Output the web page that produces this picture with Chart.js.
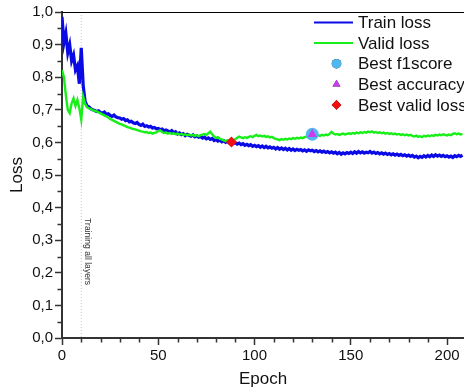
<!DOCTYPE html>
<html>
<head>
<meta charset="utf-8">
<script src="https://cdn.jsdelivr.net/npm/chart.js@4"></script>
<style>
  html, body { margin: 0; padding: 0; background: #fff; }
  #wrap { width: 464px; height: 392px; position: relative; }
</style>
</head>
<body>
<div id="wrap"><canvas id="lossChart"></canvas></div>
<script>
// Loss per epoch
const trainLoss = [
  0.985, 0.905, 0.935, 0.875, 0.900, 0.850, 0.868, 0.822, 0.835, 0.780,
  0.890, 0.775, 0.726, 0.712, 0.709, 0.703, 0.700, 0.698, 0.695, 0.697,
  0.692, 0.690, 0.693, 0.686, 0.688, 0.683, 0.680, 0.684, 0.678, 0.676,
  0.675, 0.671, 0.673, 0.667, 0.669, 0.663, 0.665, 0.660, 0.658, 0.661,
  0.655, 0.652, 0.656, 0.649, 0.651, 0.647, 0.649, 0.644, 0.646, 0.642,
  0.643, 0.639, 0.641, 0.636, 0.638, 0.635, 0.632, 0.636, 0.630, 0.633,
  0.626, 0.629, 0.624, 0.627, 0.621, 0.625, 0.622, 0.619, 0.623, 0.617,
  0.620, 0.616, 0.618, 0.613, 0.616, 0.611, 0.614, 0.609, 0.612, 0.606,
  0.609, 0.604, 0.607, 0.602, 0.605, 0.600, 0.603, 0.598, 0.601, 0.597,
  0.599, 0.595, 0.598, 0.593, 0.596, 0.591, 0.594, 0.590, 0.593, 0.588,
  0.591, 0.587, 0.590, 0.585, 0.589, 0.584, 0.588, 0.583, 0.586, 0.582,
  0.585, 0.580, 0.584, 0.579, 0.583, 0.578, 0.582, 0.577, 0.581, 0.576,
  0.580, 0.575, 0.579, 0.576, 0.578, 0.574, 0.577, 0.573, 0.577, 0.574,
  0.576, 0.572, 0.575, 0.571, 0.574, 0.570, 0.573, 0.569, 0.572, 0.568,
  0.571, 0.567, 0.570, 0.565, 0.569, 0.564, 0.568, 0.565, 0.569, 0.566,
  0.570, 0.566, 0.571, 0.567, 0.572, 0.568, 0.571, 0.567, 0.570, 0.568,
  0.572, 0.567, 0.570, 0.566, 0.569, 0.565, 0.568, 0.564, 0.567, 0.563,
  0.566, 0.562, 0.565, 0.561, 0.564, 0.560, 0.563, 0.559, 0.562, 0.558,
  0.561, 0.557, 0.560, 0.555, 0.558, 0.553, 0.557, 0.554, 0.559, 0.555,
  0.560, 0.556, 0.561, 0.557, 0.562, 0.558, 0.561, 0.557, 0.560, 0.556,
  0.559, 0.555, 0.558, 0.554, 0.559, 0.556, 0.560, 0.557, 0.561
];
const validLoss = [
  0.822, 0.800, 0.745, 0.700, 0.690, 0.720, 0.735, 0.712, 0.730, 0.705,
  0.670, 0.740, 0.718, 0.708, 0.704, 0.702, 0.699, 0.697, 0.695, 0.692,
  0.689, 0.686, 0.683, 0.680, 0.676, 0.672, 0.669, 0.666, 0.663, 0.660,
  0.657, 0.655, 0.652, 0.650, 0.647, 0.645, 0.643, 0.641, 0.640, 0.638,
  0.636, 0.634, 0.633, 0.631, 0.632, 0.629, 0.630, 0.627, 0.629, 0.631,
  0.635, 0.637, 0.632, 0.629, 0.630, 0.627, 0.629, 0.626, 0.628, 0.625,
  0.627, 0.624, 0.626, 0.623, 0.625, 0.622, 0.624, 0.621, 0.623, 0.620,
  0.622, 0.619, 0.622, 0.624, 0.626, 0.623, 0.628, 0.633, 0.625, 0.618,
  0.614, 0.616, 0.611, 0.609, 0.606, 0.604, 0.607, 0.603, 0.601, 0.604,
  0.610, 0.614, 0.618, 0.615, 0.613, 0.616, 0.614, 0.617, 0.619, 0.616,
  0.620, 0.623, 0.619, 0.621, 0.618, 0.620, 0.617, 0.619, 0.615, 0.617,
  0.613, 0.611, 0.609, 0.607, 0.610, 0.608, 0.611, 0.609, 0.612, 0.610,
  0.613, 0.611, 0.614, 0.612, 0.615, 0.613, 0.616, 0.618, 0.620, 0.622,
  0.625, 0.621, 0.619, 0.622, 0.620, 0.623, 0.621, 0.624, 0.622, 0.626,
  0.632, 0.627, 0.624, 0.626, 0.623, 0.625, 0.627, 0.624, 0.626, 0.628,
  0.626, 0.629, 0.627, 0.630, 0.628, 0.631, 0.629, 0.632, 0.630, 0.633,
  0.631, 0.634, 0.630, 0.632, 0.629, 0.631, 0.628, 0.630, 0.627, 0.629,
  0.626, 0.628, 0.625, 0.627, 0.624, 0.626, 0.623, 0.625, 0.622, 0.624,
  0.621, 0.623, 0.620, 0.618, 0.621, 0.617, 0.619, 0.616, 0.620, 0.618,
  0.621, 0.619, 0.622, 0.620, 0.623, 0.621, 0.624, 0.622, 0.625, 0.623,
  0.621, 0.624, 0.622, 0.626, 0.628, 0.625, 0.627, 0.624, 0.626
];
const epochs = trainLoss.map((_, i) => i);

// best-epoch markers [epoch, loss]
const bestF1 = [130, 0.625];
const bestAccuracy = [130, 0.625];
const bestValidLoss = [88, 0.601];

const unfreezeEpoch = 10;
const unfreezeLabel = "Training all layers";

const FONT = "'Liberation Sans', Arial, sans-serif";

// legend drawn inside the plot, top right
const legendPlugin = {
  id: "insideLegend",
  afterDraw(chart) {
    const ctx = chart.ctx;
    const right = chart.chartArea.right;
    const x0 = right - 150, x1 = right - 111, xm = right - 127.5, xt = right - 106;
    let y = 22.5;
    ctx.save();
    ctx.font = "17px " + FONT;
    ctx.textBaseline = "middle";
    chart.data.datasets.forEach((ds) => {
      if (ds.showLine === false) {
        Chart.helpers.drawPoint(ctx, {
          pointStyle: ds.pointStyle,
          radius: ds.legendRadius,
          rotation: 0,
          borderWidth: 0
        }, xm, y);
        ctx.fillStyle = ds.backgroundColor;
        ctx.fill();
      } else {
        ctx.strokeStyle = ds.borderColor;
        ctx.lineWidth = 2;
        ctx.beginPath();
        ctx.moveTo(x0, y);
        ctx.lineTo(x1, y);
        ctx.stroke();
      }
      ctx.fillStyle = "#111";
      ctx.fillText(ds.label, xt, y + 1);
      y += 20.6;
    });
    ctx.restore();
  }
};

// frame top, minor ticks, unfreeze marker
const decorPlugin = {
  id: "decor",
  beforeDatasetsDraw(chart) {
    const { ctx, chartArea, scales } = chart;
    const xs = scales.x, ys = scales.y;
    const ux = xs.getPixelForValue(unfreezeEpoch);
    ctx.save();
    ctx.strokeStyle = "#c4c4c4";
    ctx.lineWidth = 1;
    ctx.setLineDash([1, 2]);
    ctx.beginPath();
    ctx.moveTo(ux, chartArea.top);
    ctx.lineTo(ux, chartArea.bottom);
    ctx.stroke();
    ctx.setLineDash([]);
    ctx.translate(xs.getPixelForValue(unfreezeEpoch + 3), ys.getPixelForValue(0.265));
    ctx.rotate(Math.PI / 2);
    ctx.font = "8.6px " + FONT;
    ctx.fillStyle = "#333";
    ctx.textAlign = "center";
    ctx.textBaseline = "middle";
    ctx.fillText(unfreezeLabel, 0, 0);
    ctx.restore();
  },
  afterDraw(chart) {
    const { ctx, chartArea, scales } = chart;
    ctx.save();
    ctx.strokeStyle = "#000";
    ctx.lineWidth = 1;
    ctx.beginPath();
    ctx.moveTo(chartArea.left, chartArea.top + 0.5);
    ctx.lineTo(chartArea.right, chartArea.top + 0.5);
    ctx.stroke();

    ctx.strokeStyle = "#333";
    ctx.lineWidth = 1.5;
    ctx.beginPath();
    for (let v = 0.05; v < 1; v += 0.1) {
      const py = Math.round(scales.y.getPixelForValue(v)) + 0.5;
      ctx.moveTo(chartArea.left - 4.5, py);
      ctx.lineTo(chartArea.left, py);
    }
    for (let e = 10; e <= 200; e += 10) {
      if (e % 50 === 0) continue;
      const px = Math.round(scales.x.getPixelForValue(e)) + 0.5;
      ctx.moveTo(px, chartArea.bottom);
      ctx.lineTo(px, chartArea.bottom + 4.5);
    }
    ctx.stroke();
    ctx.restore();
  }
};

const toPoints = (ys) => epochs.map((e, i) => ({ x: e, y: ys[i] }));

new Chart(document.getElementById("lossChart"), {
  type: "line",
  data: {
    datasets: [
      {
        label: "Train loss",
        data: toPoints(trainLoss),
        borderColor: "#0a0ae6",
        borderWidth: 3.2,
        pointRadius: 0,
        tension: 0,
        order: 3
      },
      {
        label: "Valid loss",
        data: toPoints(validLoss),
        borderColor: "#18ee18",
        borderWidth: 2.4,
        pointRadius: 0,
        tension: 0,
        order: 2
      },
      {
        label: "Best f1score",
        data: [{ x: bestF1[0], y: bestF1[1] }],
        showLine: false,
        pointStyle: "circle",
        pointRadius: 6.5,
        legendRadius: 4.8,
        backgroundColor: "#4fb8f0",
        pointBackgroundColor: "#4fb8f0",
        pointBorderWidth: 0,
        order: 1
      },
      {
        label: "Best accuracy",
        data: [{ x: bestAccuracy[0], y: bestAccuracy[1] }],
        showLine: false,
        pointStyle: "triangle",
        pointRadius: 5.5,
        legendRadius: 4.5,
        backgroundColor: "#cc3cee",
        pointBackgroundColor: "#cc3cee",
        pointBorderWidth: 0,
        order: 0
      },
      {
        label: "Best valid loss",
        data: [{ x: bestValidLoss[0], y: bestValidLoss[1] }],
        showLine: false,
        pointStyle: "rectRot",
        pointRadius: 5.5,
        legendRadius: 4.8,
        backgroundColor: "#f01010",
        pointBackgroundColor: "#f01010",
        pointBorderWidth: 0,
        order: 0
      }
    ]
  },
  options: {
    responsive: true,
    maintainAspectRatio: false,
    animation: false,
    events: [],
    layout: { autoPadding: false, padding: { top: 12, right: 0, left: 0, bottom: 0 } },
    plugins: {
      legend: { display: false },
      tooltip: { enabled: false }
    },
    scales: {
      x: {
        type: "linear",
        min: 0,
        max: 208.8,
        afterFit: (scale) => {
          scale.height = 54;
          scale.paddingRight = 0;
          scale.paddingLeft = 0;
        },
        border: { display: true, color: "#333", width: 2 },
        grid: { drawOnChartArea: false, drawTicks: true, tickLength: 7, tickColor: "#333", tickWidth: 1.5 },
        ticks: {
          stepSize: 50,
          includeBounds: false,
          padding: 2,
          maxRotation: 0,
          color: "#111",
          font: { family: FONT, size: 15 }
        },
        title: {
          display: true,
          text: "Epoch",
          color: "#111",
          padding: { top: 0, bottom: 2 },
          font: { family: FONT, size: 17 }
        }
      },
      y: {
        min: 0,
        max: 1,
        afterFit: (scale) => { scale.width = 62; },
        border: { display: true, color: "#333", width: 2 },
        grid: { drawOnChartArea: false, drawTicks: true, tickLength: 7, tickColor: "#333", tickWidth: 1.5 },
        ticks: {
          stepSize: 0.1,
          padding: 2,
          color: "#111",
          font: { family: FONT, size: 15 },
          callback: (v) => v.toFixed(1).replace(".", ",")
        },
        title: {
          display: true,
          text: "Loss",
          color: "#111",
          padding: { top: 7, bottom: 0 },
          font: { family: FONT, size: 17 }
        }
      }
    }
  },
  plugins: [decorPlugin, legendPlugin]
});
</script>
</body>
</html>
